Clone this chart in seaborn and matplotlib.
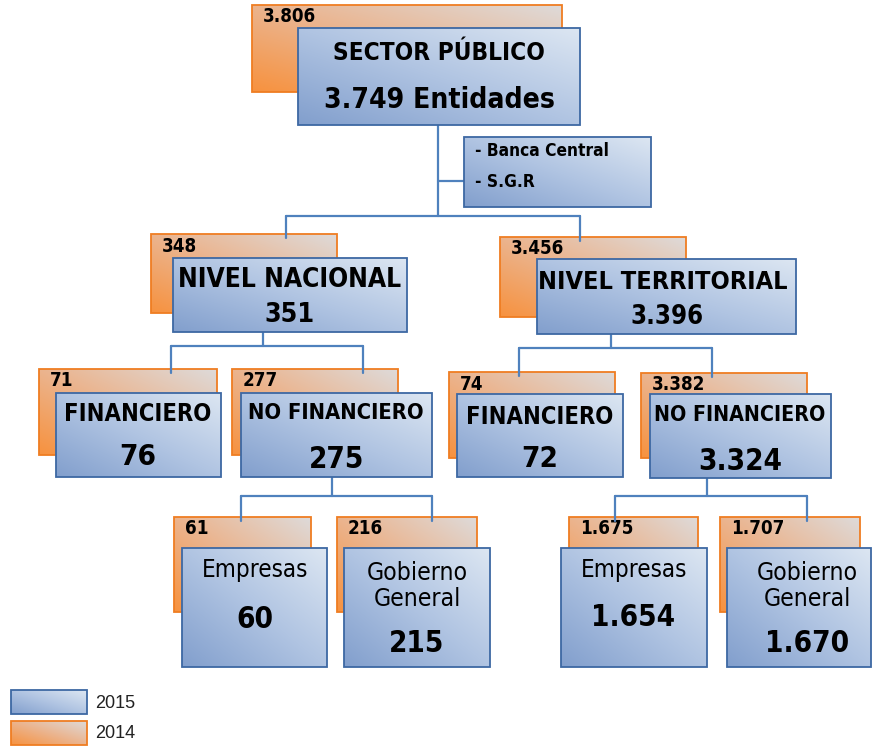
import numpy as np
import matplotlib
matplotlib.use("Agg")
import matplotlib.pyplot as plt
import seaborn as sns
from matplotlib import font_manager
from matplotlib.colors import LinearSegmentedColormap
from matplotlib.patches import Rectangle

# --- data -------------------------------------------------------------
labels = ["SECTOR PÚBLICO", "NIVEL NACIONAL", "NIVEL TERRITORIAL",
          "FINANCIERO", "NO FINANCIERO", "FINANCIERO", "NO FINANCIERO",
          "Empresas", "Gobierno\nGeneral", "Empresas", "Gobierno\nGeneral"]
entities_2015 = [3749, 351, 3396, 76, 275, 72, 3324, 60, 215, 1654, 1670]
entities_2014 = [3806, 348, 3456, 71, 277, 74, 3382, 61, 216, 1675, 1707]
parents = [None, 0, 0, 1, 1, 2, 2, 4, 4, 6, 6]
side_items = ["- Banca Central", "- S.G.R"]
legend_years = ["2015", "2014"]

# --- layout (pixels, y downwards) ---------------------------------------
# orange box (2014), blue box (2015), title xy, value xy
layout = [
    ((252, 5, 562, 92), (298, 28, 580, 125), (439, 53), (440, 100)),
    ((151, 234, 337, 313), (173, 258, 407, 332), (290, 280), (290, 315)),
    ((500, 237, 686, 317), (537, 259, 796, 334), (663, 282), (667, 317)),
    ((39, 369, 217, 455), (56, 393, 221, 477), (138, 414), (138, 457)),
    ((232, 369, 398, 455), (241, 393, 432, 477), (336, 413), (337, 460)),
    ((449, 372, 615, 458), (457, 394, 623, 477), (540, 417), (540, 459)),
    ((641, 373, 807, 458), (650, 394, 831, 478), (740, 415), (740, 462)),
    ((174, 517, 311, 612), (182, 548, 327, 667), (255, 570), (255, 620)),
    ((337, 517, 477, 612), (344, 548, 490, 667), (417, 586), (417, 643)),
    ((569, 517, 698, 612), (561, 548, 707, 667), (634, 570), (633, 618)),
    ((720, 517, 860, 612), (727, 548, 871, 667), (807, 586), (807, 643)),
]
# text widths and cap heights in px (title, value)
title_w = [202, 203, 230, 132, 152, 132, 152, 102, 100, 102, 100]
title_h = [18, 20, 20, 18, 17, 18, 17, 18, 18, 18, 18]
value_w = [187, 42, 64, 30, 46, 30, 69, 31, 47, 70, 70]
value_h = [21, 20, 19, 22, 22, 22, 22, 22, 22, 22, 22]
# parent -> (stem x, bus y), child drop x
stems = {0: (438, 216), 1: (263, 346), 2: (611, 348), 4: (332, 496), 6: (707, 496)}
drops = {1: 286, 2: 580, 3: 171, 4: 363, 5: 519, 6: 712, 7: 241, 8: 432, 9: 615, 10: 807}
title_weight = ["bold"] * 7 + ["normal"] * 4

sns.set_theme(style="white")
fonts = font_manager.fontManager.ttflist
names = {f.name for f in fonts}
condensed = any(f.name == "DejaVu Sans" and f.stretch == "condensed" for f in fonts)
if "Liberation Sans Narrow" in names:
    box_font, stretch = "Liberation Sans Narrow", "normal"
elif condensed:
    box_font, stretch = "DejaVu Sans", "condensed"
else:
    box_font, stretch = "Lato", "normal"
plt.rcParams["font.family"] = [box_font, "DejaVu Sans"]
plt.rcParams["font.stretch"] = stretch

blue_cmap = LinearSegmentedColormap.from_list("b", ["#829fcd", "#b0c4e2", "#dce6f2"])
orange_cmap = LinearSegmentedColormap.from_list("o", ["#f7923f", "#ebb48e", "#dedad9"])
BLUE_EDGE = "#3d68a3"
ORANGE_EDGE = "#ef7d22"
LINE = "#4f81bd"

fig = plt.figure(figsize=(8.73, 7.46), dpi=100)
ax = fig.add_axes([0, 0, 1, 1])
ax.set_xlim(0, 873)
ax.set_ylim(746, 0)
renderer = fig.canvas.get_renderer()

U, V = np.meshgrid(np.linspace(0, 1, 80), np.linspace(0, 1, 80))
grad = (U + (1 - V)) / 2


def gbox(rect, cmap, edge, z):
    x0, y0, x1, y1 = rect
    ax.imshow(grad, cmap=cmap, extent=(x0, x1, y1, y0), origin="upper",
              vmin=0, vmax=1, interpolation="bilinear", aspect="auto", zorder=z)
    p = Rectangle((x0, y0), x1 - x0, y1 - y0, fill=False, ec=edge, lw=1.3, zorder=z + 0.1)
    ax.add_patch(p)
    return p


def fit(t, width, height, k=0.5, limit=None):
    # blend the size that matches the width with the one that matches cap height
    w = t.get_window_extent(renderer).width
    s_w = t.get_fontsize() * width / w
    s_h = height / 0.73 * 0.72
    size = s_w ** (1 - k) * s_h ** k
    if limit is not None:
        size = min(size, s_w * limit / width)
    t.set_fontsize(size)


def fmt(n):
    return f"{n:,}".replace(",", ".")


for i, (orect, brect, txy, vxy) in enumerate(layout):
    op = gbox(orect, orange_cmap, ORANGE_EDGE, 1)
    t = ax.text(orect[0] + 11, orect[1] + 12, fmt(entities_2014[i]), fontsize=13.5,
                fontweight="bold", ha="left", va="center", color="black", zorder=1.5)
    t.set_clip_path(op)
    gbox(brect, blue_cmap, BLUE_EDGE, 3)
    room = brect[2] - brect[0] - 10
    t = ax.text(*txy, labels[i], fontsize=18, fontweight=title_weight[i], color="black",
                ha="center", va="center", linespacing=1.15, zorder=4)
    fit(t, title_w[i], title_h[i], 0.7, room)
    val = fmt(entities_2015[i]) + (" Entidades" if i == 0 else "")
    t = ax.text(*vxy, val, fontsize=20, fontweight="bold",
                color="black", ha="center", va="center", zorder=4)
    fit(t, value_w[i], value_h[i], 0.9, room)

# connectors
for p, (sx, by) in stems.items():
    kids = [c for c, q in enumerate(parents) if q == p]
    ax.plot([sx, sx], [layout[p][1][3], by], color=LINE, lw=1.6, zorder=2)
    xs = [drops[c] for c in kids]
    ax.plot([min(xs), max(xs)], [by, by], color=LINE, lw=1.6, zorder=2)
    for c in kids:
        ax.plot([drops[c], drops[c]], [by, layout[c][0][1] + 4], color=LINE, lw=1.6, zorder=2)

# side box
ax.plot([438, 464], [181, 181], color=LINE, lw=1.6, zorder=2)
gbox((464, 137, 651, 207), blue_cmap, BLUE_EDGE, 3)
for k, s in enumerate(side_items):
    t = ax.text(475, 151 + 31 * k, s, fontsize=13, fontweight="bold", color="black",
                ha="left", va="center", zorder=4)
    if k == 0:
        fit(t, 125, 15, 0.3)
        side_size = t.get_fontsize()
    else:
        t.set_fontsize(side_size)

# legend
for k, (yr, cm, ec) in enumerate(zip(legend_years, [blue_cmap, orange_cmap], [BLUE_EDGE, ORANGE_EDGE])):
    y0 = 690 + 31 * k
    gbox((11, y0, 87, y0 + 24), cm, ec, 3)
    ax.text(95, y0 + 13, yr, fontsize=13, family=["Liberation Sans", "DejaVu Sans"],
            stretch="normal", ha="left", va="center", color="#222222")

ax.set_xlim(0, 873)
ax.set_ylim(746, 0)
ax.axis("off")
fig.savefig("out.png", dpi=100)
